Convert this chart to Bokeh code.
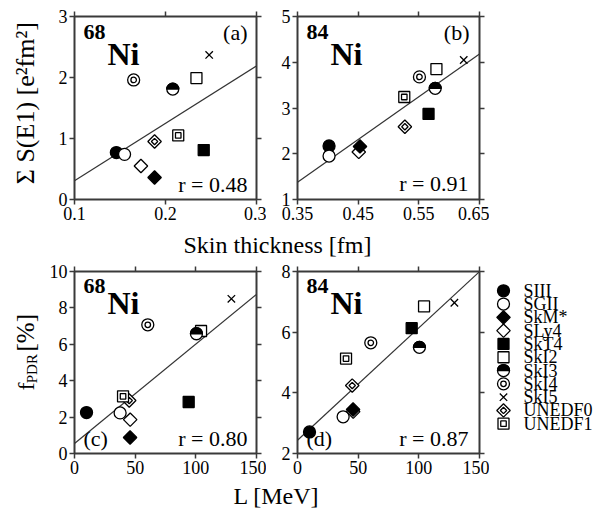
import numpy as np
from bokeh.plotting import figure
from bokeh.layouts import row, column
from bokeh.models import Range1d, FixedTicker, LinearAxis, Label, CustomJSTickFormatter
from bokeh.core.properties import value
from bokeh.embed import file_html
from bokeh.resources import INLINE

# ---------------- data ----------------
models = ["SIII", "SGII", "SkM*", "SLy4", "SkT4", "SkI2", "SkI3", "SkI4", "SkI5", "UNEDF0", "UNEDF1"]

skin_68 = [0.146, 0.155, 0.188, 0.173, 0.242, 0.234, 0.208, 0.165, 0.248, 0.188, 0.214]
se1_68 = [0.77, 0.74, 0.36, 0.55, 0.81, 1.99, 1.81, 1.96, 2.37, 0.95, 1.05]
skin_84 = [0.402, 0.402, 0.453, 0.451, 0.566, 0.579, 0.577, 0.551, 0.624, 0.527, 0.526]
se1_84 = [2.17, 1.95, 2.16, 2.04, 2.87, 3.85, 3.43, 3.68, 4.05, 2.59, 3.24]
L_mev = [9.9, 37.6, 45.8, 45.9, 94.1, 104.3, 100.5, 60.4, 129.3, 45.1, 40.0]
fpdr_68 = [2.25, 2.23, 0.88, 1.86, 2.83, 6.73, 6.58, 7.07, 8.50, 2.91, 3.14]
fpdr_84 = [2.71, 3.21, 3.45, 3.38, 6.13, 6.85, 5.50, 5.65, 6.97, 4.24, 5.13]

r_labels = ["r = 0.48", "r = 0.91", "r = 0.80", "r = 0.87"]
panel_tags = ["(a)", "(b)", "(c)", "(d)"]
nuclei = [("68", "Ni"), ("84", "Ni")]

ticks_skin68 = [0.1, 0.2, 0.3]
ticks_skin84 = [0.35, 0.45, 0.55, 0.65]
ticks_se1_68 = [0, 1, 2, 3]
ticks_se1_84 = [1, 2, 3, 4, 5]
ticks_L = [0, 50, 100, 150]
ticks_f68 = [0, 2, 4, 6, 8, 10]
ticks_f84 = [2, 4, 6, 8]

# ---------------- style ----------------
SERIF = "Liberation Serif"
INK = "black"
FRAME = "#3a3a3a"
FW = 182


def style_axis(ax, ticks, labels=True):
    ax.ticker = FixedTicker(ticks=ticks)
    ax.axis_line_color = None
    ax.major_tick_out = 5
    ax.major_tick_in = 0
    ax.major_tick_line_color = FRAME
    ax.major_tick_line_width = 1.5
    ax.minor_tick_line_color = None
    ax.major_label_text_font = SERIF
    ax.major_label_text_font_size = "18px"
    ax.major_label_text_color = INK
    ax.major_label_standoff = 2
    if not labels:
        ax.formatter = CustomJSTickFormatter(code="return ''")
        ax.major_label_standoff = 0


def make_panel(xr, yr, xt, yt, fh, top, bottom, left, right):
    p = figure(width=left + FW + right, height=top + fh + bottom,
               x_range=Range1d(*xr), y_range=Range1d(*yr),
               output_backend="svg", toolbar_location=None,
               min_border_left=left, min_border_right=right,
               min_border_top=top, min_border_bottom=bottom)
    p.grid.visible = False
    p.outline_line_color = FRAME
    p.outline_line_width = 2
    p.background_fill_color = "white"
    p.border_fill_color = "white"
    style_axis(p.xaxis[0], xt)
    style_axis(p.yaxis[0], yt)
    ta = LinearAxis()
    style_axis(ta, xt, labels=False)
    p.add_layout(ta, "above")
    ra = LinearAxis()
    style_axis(ra, yt, labels=False)
    p.add_layout(ra, "right")
    return p


def blank(w, h):
    s = figure(width=w, height=h, x_range=Range1d(0, w), y_range=Range1d(0, h),
               x_axis_type=None, y_axis_type=None, output_backend="svg",
               toolbar_location=None, min_border=0, outline_line_color=None)
    s.grid.visible = False
    return s


def draw_models(p, xs, ys):
    lw = 1.3
    def pt(i):
        return dict(x=[xs[i]], y=[ys[i]])
    # SIII filled circle
    p.scatter(marker="circle", size=12, fill_color=INK, line_color=INK, line_width=lw, **pt(0))
    # SGII open circle
    p.scatter(marker="circle", size=12, fill_color="white", line_color=INK, line_width=lw, **pt(1))
    # SLy4 open diamond
    p.scatter(marker="square", angle=np.pi / 4, size=9.5, fill_color="white", line_color=INK, line_width=lw, **pt(3))
    # SkM* filled diamond
    p.scatter(marker="square", angle=np.pi / 4, size=9.5, fill_color=INK, line_color=INK, line_width=lw, **pt(2))
    # SkT4 filled square
    p.scatter(marker="square", size=11, fill_color=INK, line_color=INK, line_width=lw, **pt(4))
    # SkI2 open square
    p.scatter(marker="square", size=11, fill_color="white", line_color=INK, line_width=lw, **pt(5))
    # SkI3 half-filled circle
    p.scatter(marker="circle", size=12, fill_color="white", line_color=INK, line_width=lw, **pt(6))
    p.wedge(radius=6, radius_units="screen", start_angle=0, end_angle=np.pi,
            fill_color=INK, line_color=INK, line_width=lw, **pt(6))
    # SkI4 double circle
    p.scatter(marker="circle", size=12, fill_color="white", line_color=INK, line_width=lw, **pt(7))
    p.scatter(marker="circle", size=5.5, fill_color="white", line_color=INK, line_width=lw, **pt(7))
    # SkI5 cross
    p.scatter(marker="x", size=10.5, line_color=INK, line_width=lw, **pt(8))
    # UNEDF0 double diamond
    p.scatter(marker="square", angle=np.pi / 4, size=9.5, fill_color="white", line_color=INK, line_width=lw, **pt(9))
    p.scatter(marker="square", angle=np.pi / 4, size=4.5, fill_color="white", line_color=INK, line_width=lw, **pt(9))
    # UNEDF1 double square
    p.scatter(marker="square", size=11, fill_color="white", line_color=INK, line_width=lw, **pt(10))
    p.scatter(marker="square", size=5.5, fill_color="white", line_color=INK, line_width=lw, **pt(10))


def fit_line(p, xs, ys, xr):
    k, b = np.polyfit(np.array(xs, float), np.array(ys, float), 1)
    xx = np.array(xr, float)
    p.line(xx, k * xx + b, line_color="#333333", line_width=1.2)


def label(p, text, x, y, size, bold=False, align="left"):
    # y is the vertical middle of the text, in px from the frame bottom
    p.add_layout(Label(x=x, y=y, x_units="screen", y_units="screen", text=text,
                       text_font=SERIF, text_font_size=f"{size}px",
                       text_font_style="bold" if bold else "normal",
                       text_align=align, text_baseline="middle", text_color=INK))


def nucleus(p, mass, sym, y68, yni):
    label(p, mass, 9, y68, 22, bold=True)
    label(p, sym, 33, yni, 32, bold=True)


def vtext(p, x, y, text, size):
    p.text(x=[x], y=[y], text=[text], angle=np.pi / 2, text_font=value(SERIF),
           text_font_size=f"{size}px", text_align="center", text_baseline="middle", text_color=INK)


# ---------------- geometry ----------------
LEFT_W = 44
ROW1_H = 16 + 183 + 28
ROW2_H = 10 + 182 + 28
ROW2_TOP = ROW1_H + 34

# ---------------- panels ----------------
fa = make_panel((0.1, 0.3), (0, 3), ticks_skin68, ticks_se1_68, 183, 16, 28, 30, 10)
fit_line(fa, skin_68, se1_68, (0.1, 0.3))
draw_models(fa, skin_68, se1_68)
nucleus(fa, nuclei[0][0], nuclei[0][1], 168, 146)
label(fa, panel_tags[0], 173, 167, 22, align="right")
label(fa, r_labels[0], 173, 15, 22, align="right")

fb = make_panel((0.35, 0.65), (1, 5), ticks_skin84, ticks_se1_84, 183, 16, 28, 31, 10)
fit_line(fb, skin_84, se1_84, (0.35, 0.65))
draw_models(fb, skin_84, se1_84)
nucleus(fb, nuclei[1][0], nuclei[1][1], 168, 146)
label(fb, panel_tags[1], 172, 167, 22, align="right")
label(fb, r_labels[1], 171, 16, 22, align="right")

fc = make_panel((0, 150), (0, 10), ticks_L, ticks_f68, 182, 10, 28, 30, 10)
fit_line(fc, L_mev, fpdr_68, (0, 150))
draw_models(fc, L_mev, fpdr_68)
nucleus(fc, nuclei[0][0], nuclei[0][1], 168, 151)
label(fc, panel_tags[2], 9, 15, 22)
label(fc, r_labels[2], 173, 15, 22, align="right")

fd = make_panel((0, 150), (2, 8), ticks_L, ticks_f84, 182, 10, 28, 31, 10)
fit_line(fd, L_mev, fpdr_84, (0, 150))
draw_models(fd, L_mev, fpdr_84)
nucleus(fd, nuclei[1][0], nuclei[1][1], 168, 151)
label(fd, panel_tags[3], 9, 15, 22)
label(fd, r_labels[3], 171, 15, 22, align="right")

# ---------------- y-axis titles (own narrow canvases, page-y converted) ----------------
la = blank(LEFT_W, ROW1_H)
def ya(page_y):
    return ROW1_H - page_y
vtext(la, 25.0, ya(107.5), "\u03a3 S(E1) [e\u00b2fm\u00b2]", 26)

lc = blank(LEFT_W, ROW2_H)
def yc(page_y):
    return ROW2_H - (page_y - ROW2_TOP)
vtext(lc, 25.0, yc(400.0), "f", 24)
vtext(lc, 31.5, yc(378.5), "PDR", 15)
vtext(lc, 25.0, yc(335.0), "[%]", 25)

# ---------------- legend (own canvas) ----------------
LW = 105
fl = blank(LW, ROW2_H)
rows_y = yc(284.3 + 16.07 * np.arange(len(models)))
draw_models(fl, [14] * len(models), list(rows_y))
fl.text(x=[34] * len(models), y=list(rows_y), text=models, text_font=value(SERIF),
        text_font_size="18px", text_baseline="middle", text_align="left", text_color=INK)

# ---------------- shared x-axis titles ----------------
TOP_W = LEFT_W + 222 + 223
s1 = blank(TOP_W, 34)
s1.text(x=[277], y=[34 - 17], text=["Skin thickness [fm]"], text_font=value(SERIF),
        text_font_size="24px", text_align="center", text_baseline="middle", text_color=INK)
s2 = blank(TOP_W, 29)
s2.text(x=[276], y=[29 - 14], text=["L [MeV]"], text_font=value(SERIF),
        text_font_size="24px", text_align="center", text_baseline="middle", text_color=INK)

layout = column(row(la, fa, fb), s1, row(lc, fc, fd, fl), s2)

open("out.html", "w").write(file_html(layout, INLINE))
